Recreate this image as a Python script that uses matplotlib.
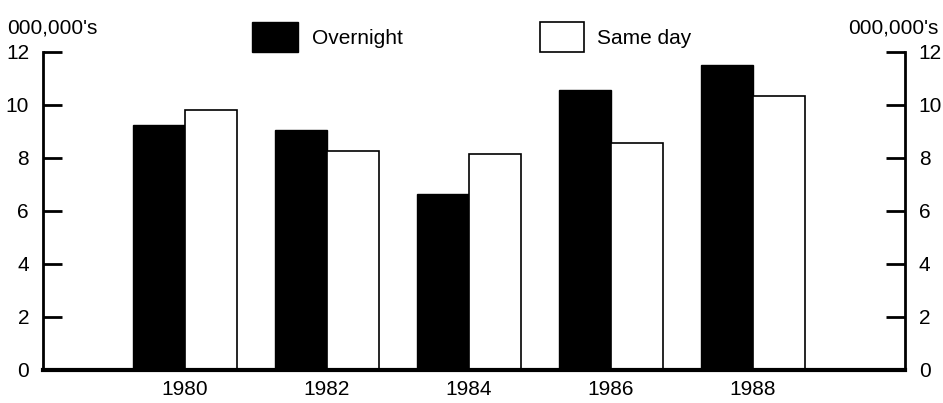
import numpy as np
import matplotlib
matplotlib.use("Agg")
import matplotlib.pyplot as plt
from matplotlib.patches import Rectangle

years = ["1980", "1982", "1984", "1986", "1988"]
overnight = [9.25, 9.05, 6.65, 10.55, 11.5]
same_day = [9.8, 8.25, 8.15, 8.55, 10.35]
y_ticks = [0, 2, 4, 6, 8, 10, 12]

plt.rcParams["font.family"] = ["Liberation Sans", "DejaVu Sans"]
plt.rcParams["font.size"] = 15

fig = plt.figure(figsize=(9.43, 4.03), dpi=100)
ax = fig.add_axes([0.0456, 0.082, 0.914, 0.789])

x = np.arange(len(years))
w = 0.366
ax.bar(x - w / 2, overnight, w, color="black", edgecolor="black", linewidth=1)
ax.bar(x + w / 2, same_day, w, color="white", edgecolor="black", linewidth=1.2)

ax.set_xlim(-1.0, 5.07)
ax.set_ylim(0, 12)
ax.set_xticks(x)
ax.set_xticklabels(years)
ax.tick_params(axis="x", length=0, pad=7)
ax.set_yticks(y_ticks)
ax.tick_params(axis="y", direction="in", length=14, width=2, left=True, right=True,
               labelleft=True, labelright=True, pad=10)

ax.spines["top"].set_visible(False)
ax.spines["left"].set_linewidth(2)
ax.spines["right"].set_linewidth(2)
ax.spines["bottom"].set_linewidth(3)

fig.text(0.008, 0.93, "000,000's", va="center", ha="left")
fig.text(0.995, 0.93, "000,000's", va="center", ha="right")

# legend drawn as boxes in figure coordinates
fig.patches.append(Rectangle((252 / 943, 1 - 52 / 403), 46 / 943, 30 / 403,
                             transform=fig.transFigure, facecolor="black", edgecolor="black"))
fig.text(312 / 943, 1 - 38 / 403, "Overnight", va="center", ha="left")
fig.patches.append(Rectangle((540 / 943, 1 - 52 / 403), 44 / 943, 30 / 403,
                             transform=fig.transFigure, facecolor="white", edgecolor="black",
                             linewidth=1.2))
fig.text(597 / 943, 1 - 38 / 403, "Same day", va="center", ha="left")

fig.savefig("out.png", dpi=100)
